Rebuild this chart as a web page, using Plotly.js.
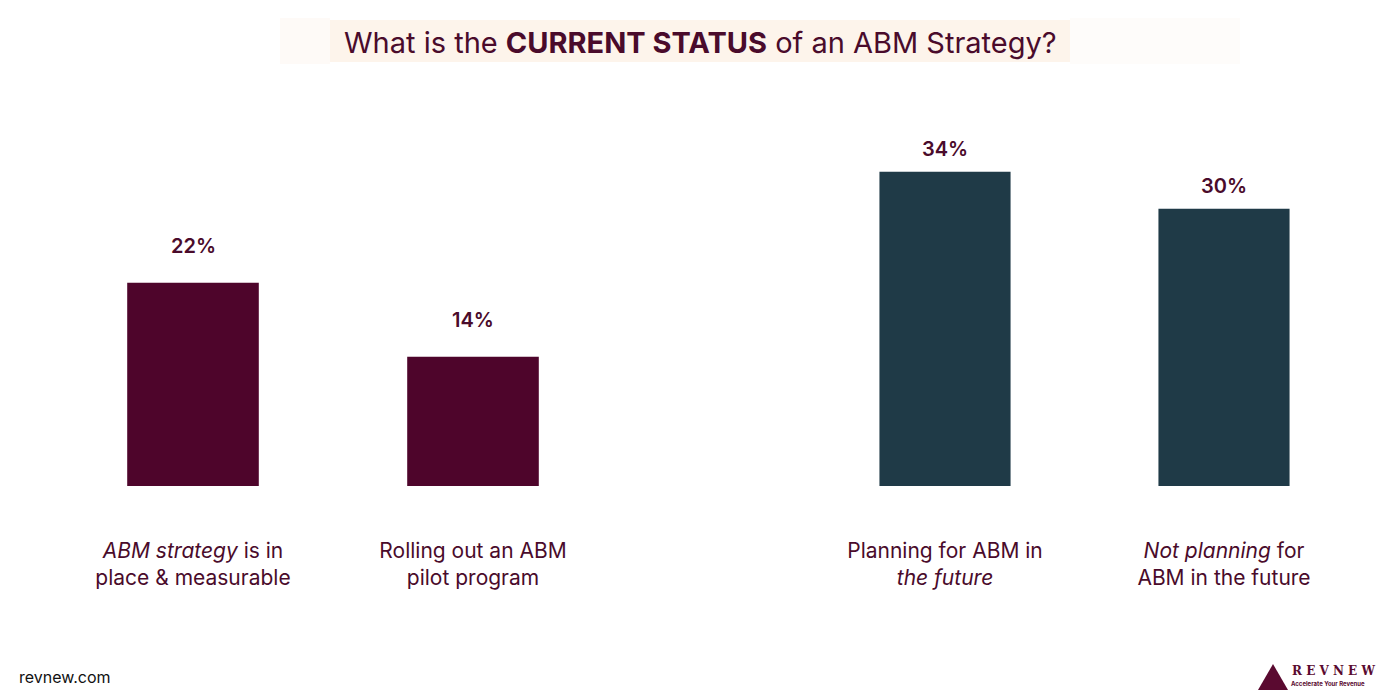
<!DOCTYPE html>
<html>
<head>
<meta charset="utf-8">
<script src="https://cdn.plot.ly/plotly-3.0.1.min.js"></script>
<style>html,body{margin:0;padding:0;background:#fff;}#chart{width:1400px;height:700px;}</style>
</head>
<body>
<div id="chart"></div>
<script>
const leftCategories = ["<i>ABM strategy</i> is in<br>place & measurable", "Rolling out an ABM<br>pilot program"];
const leftValues = [22, 14];
const rightCategories = ["Planning for ABM in<br><i>the future</i>", "<i>Not planning</i> for<br>ABM in the future"];
const rightValues = [34, 30];
const valueSuffix = "%";

const textColor = "#4a0b2b";
const font = "Inter, 'Open Sans', sans-serif";
const labelFont = {size: 20, color: textColor, family: font, weight: 600};

const traces = [
  {type: "bar", x: leftCategories, y: leftValues, xaxis: "x", yaxis: "y",
   marker: {color: "#4e052b"}, width: 0.47, hoverinfo: "skip"},
  {type: "bar", x: rightCategories, y: rightValues, xaxis: "x2", yaxis: "y2",
   marker: {color: "#1f3a47"}, width: 0.47, hoverinfo: "skip"}
];

const annotations = [];
leftCategories.forEach((c, i) => annotations.push({xref: "x", yref: "y", x: c, y: leftValues[i],
  text: leftValues[i] + valueSuffix, showarrow: false, yshift: 37, font: labelFont}));
rightCategories.forEach((c, i) => annotations.push({xref: "x2", yref: "y2", x: c, y: rightValues[i],
  text: rightValues[i] + valueSuffix, showarrow: false, yshift: 23, font: labelFont}));

annotations.push({xref: "paper", yref: "paper", x: 0.5, y: 1 - 42/700, xanchor: "center", yanchor: "middle",
  text: "What is the <b>CURRENT STATUS</b> of an ABM Strategy?", showarrow: false,
  font: {size: 29, color: textColor, family: font}});
annotations.push({xref: "paper", yref: "paper", x: 17/1400, y: 1 - 677/700, xanchor: "left", yanchor: "middle",
  text: "revnew.com", showarrow: false, font: {size: 16, color: "#111", family: font}});
annotations.push({xref: "paper", yref: "paper", x: 1290/1400, y: 1 - 671/700, xanchor: "left", yanchor: "middle",
  text: "<b>R E V N E W</b>", showarrow: false, font: {size: 12, color: "#5a0a30", family: "'DejaVu Serif', serif"}});
annotations.push({xref: "paper", yref: "paper", x: 1289/1400, y: 1 - 683/700, xanchor: "left", yanchor: "middle",
  text: "<b>Accelerate Your Revenue</b>", showarrow: false, font: {size: 6, color: "#5a0a30", family: font}});

const axisCommon = {type: "category", showgrid: false, zeroline: false, showline: false, ticks: "",
  tickfont: {size: 21, color: textColor, family: font}, ticklabelstandoff: 50, fixedrange: true};
const yCommon = {range: [0, 40], visible: false, fixedrange: true, domain: [(700-486)/700, (700-116.4)/700]};

const layout = {
  width: 1400, height: 700,
  margin: {l: 0, r: 0, t: 0, b: 0},
  paper_bgcolor: "#ffffff", plot_bgcolor: "rgba(0,0,0,0)",
  showlegend: false,
  xaxis: Object.assign({}, axisCommon, {domain: [53/1400, 613/1400], anchor: "y", range: [-0.5, 1.5]}),
  yaxis: Object.assign({}, yCommon, {anchor: "x"}),
  xaxis2: Object.assign({}, axisCommon, {domain: [805.5/1400, 1363.5/1400], anchor: "y2", range: [-0.5, 1.5]}),
  yaxis2: Object.assign({}, yCommon, {anchor: "x2"}),
  annotations: annotations,
  shapes: [
    {type: "rect", xref: "paper", yref: "paper", x0: 1070/1400, x1: 1240/1400, y0: 1-64/700, y1: 1-18/700,
     fillcolor: "rgba(253,246,240,0.35)", line: {width: 0}, layer: "below"},
    {type: "rect", xref: "paper", yref: "paper", x0: 280/1400, x1: 330/1400, y0: 1-64/700, y1: 1-18/700,
     fillcolor: "rgba(253,246,240,0.5)", line: {width: 0}, layer: "below"},
    {type: "rect", xref: "paper", yref: "paper", x0: 330/1400, x1: 1070/1400, y0: 1-62/700, y1: 1-20/700,
     fillcolor: "rgba(252,240,228,0.75)", line: {width: 0}, layer: "below"},
    {type: "path", xref: "paper", yref: "paper",
     path: `M ${1258/1400} ${1-690/700} L ${1273/1400} ${1-664/700} L ${1288/1400} ${1-690/700} Z`,
     fillcolor: "#5a0a30", line: {width: 0}}
  ]
};

Plotly.newPlot("chart", traces, layout, {displayModeBar: false, staticPlot: true});
</script>
</body>
</html>
